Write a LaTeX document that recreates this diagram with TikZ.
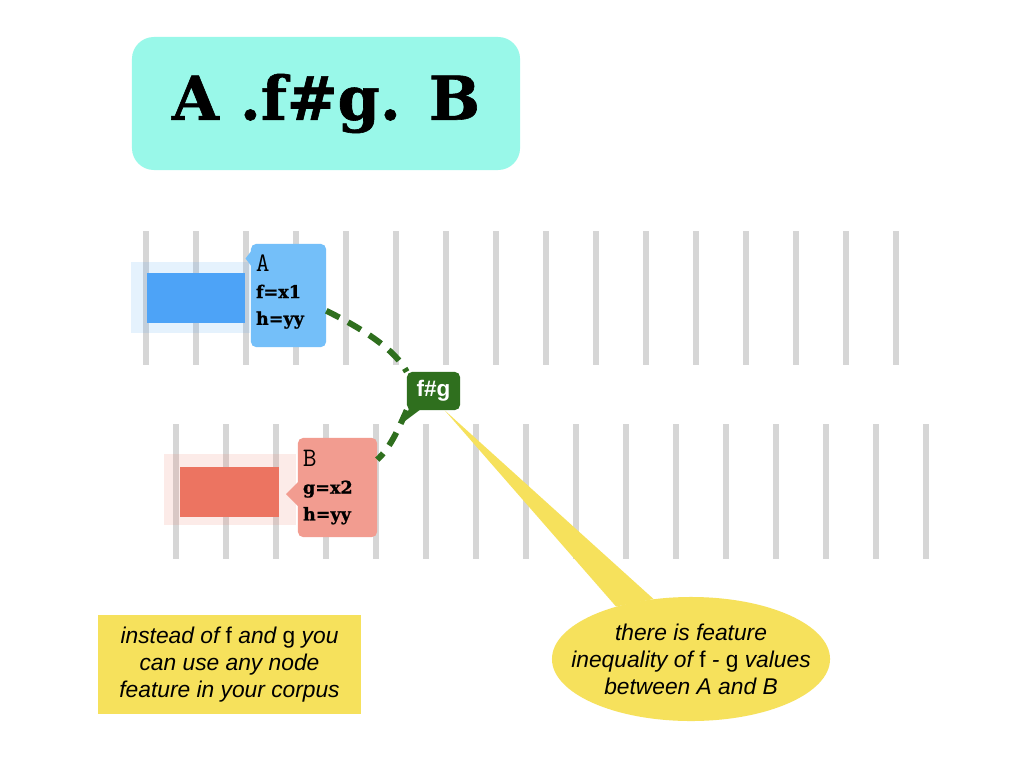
\documentclass[tikz,border=0pt]{standalone}
\usepackage{fontspec}
\setsansfont{Liberation Sans}
\newfontfamily\heavyserif{DejaVu Serif}[FakeBold=1]
\usetikzlibrary{shapes.geometric}
\definecolor{titlecyan}{RGB}{153,248,233}
\definecolor{gridgray}{RGB}{214,214,214}
\definecolor{ablue}{RGB}{77,163,247}
\definecolor{acall}{RGB}{116,191,249}
\definecolor{bred}{RGB}{236,116,97}
\definecolor{bcall}{RGB}{242,156,144}
\definecolor{relgreen}{RGB}{47,111,30}
\definecolor{noteyellow}{RGB}{246,225,92}
\newcommand{\nodename}[1]{{\ttfamily\mdseries\fontsize{19}{19}\selectfont #1}}

\begin{document}
\begin{tikzpicture}[x=0.025cm,y=-0.025cm,
    slot/.style={draw=gridgray,line width=4.25pt},
    halo/.style={fill=#1,fill opacity=0.14,inner sep=0pt,minimum height=1.775cm},
    bar/.style={fill=#1,inner sep=0pt,minimum height=1.25cm},
    feats/.style={fill=#1,rounded corners=0.125cm,inner xsep=0.125cm,inner ysep=0pt,
        align=left,font=\heavyserif\bfseries\fontsize{12.5}{19}\selectfont},
    reldash/.style={draw=relgreen,line width=4.25pt,dash pattern=on 10.5pt off 7pt},
    talk/.style={font=\sffamily\itshape\fontsize{16.2}{19.2}\selectfont,align=center}]
    \fill[white] (0,0) rectangle (1024,768);
    \useasboundingbox (0,0) rectangle (1024,768);

    % title
    \node[fill=titlecyan,rounded corners=0.55cm,minimum width=9.7cm,minimum height=3.325cm,
        font=\heavyserif\bfseries\fontsize{43}{48}\selectfont] (title) at (326,103.5) {A .f\#g. B};

    % slots of the two sentences
    \foreach \i in {0,...,15} {
        \draw[slot] (146+50*\i,231) -- (146+50*\i,365);
        \draw[slot] (176+50*\i,424) -- (176+50*\i,559);
    }

    % node A
    \node[halo=ablue,minimum width=2.975cm] (haloA) at (190.5,297.5) {};
    \node[bar=ablue,minimum width=2.45cm] (barA) at (196,298) {};
    \fill[acall] (252,250) -- (245.5,258.5) -- (252,267) -- cycle;
    \node[feats=acall,text width=1.625cm,minimum height=2.575cm] (featA) at (288.5,295.5)
        {\nodename{A}\\ f=x1\\ h=yy\\[-0.38cm]\mbox{}};

    % node B
    \node[halo=bred,minimum width=3.3cm] (haloB) at (230,489.5) {};
    \node[bar=bred,minimum width=2.475cm] (barB) at (229.5,492) {};
    \fill[bcall] (299,481) -- (286,494) -- (299,507) -- cycle;
    \node[feats=bcall,text width=1.725cm,minimum height=2.475cm] (featB) at (337.5,487.5)
        {\nodename{B}\\ g=x2\\ h=yy};

    % yellow bubble
    \node[ellipse,fill=noteyellow,minimum width=6.95cm,minimum height=3.1cm,inner sep=0pt]
        (bubble) at (691,659) {};
    \node[talk] (bubbletext) at (bubble.center)
        {there is feature\\ inequality of {\upshape f} - {\upshape g} values\\ between A and B};

    % relation
    \node[fill=relgreen,rounded corners=0.125cm,minimum width=1.325cm,minimum height=0.95cm,
        inner sep=0pt,text=white,font=\sffamily\bfseries\fontsize{16}{19}\selectfont] (rel) at (433.5,391) {f\#g};
    \fill[relgreen] (410,405) -- (421,409) -- (405,421) -- cycle;
    \fill[noteyellow] (rel.-60) -- (bubble.145) -- (bubble.122) -- cycle;
    \path[reldash] (featA.-22) .. controls (365,330) and (395,350) .. (rel.north west);
    \path[reldash] (rel.south west) .. controls (398,430) and (390,448) .. (featB.35);

    % note
    \node[fill=noteyellow,minimum width=6.575cm,minimum height=2.475cm,talk] (note) at (229.5,664.5)
        {instead of {\upshape f} and {\upshape g} you\\ can use any node\\ feature in your corpus};
\end{tikzpicture}
\end{document}
